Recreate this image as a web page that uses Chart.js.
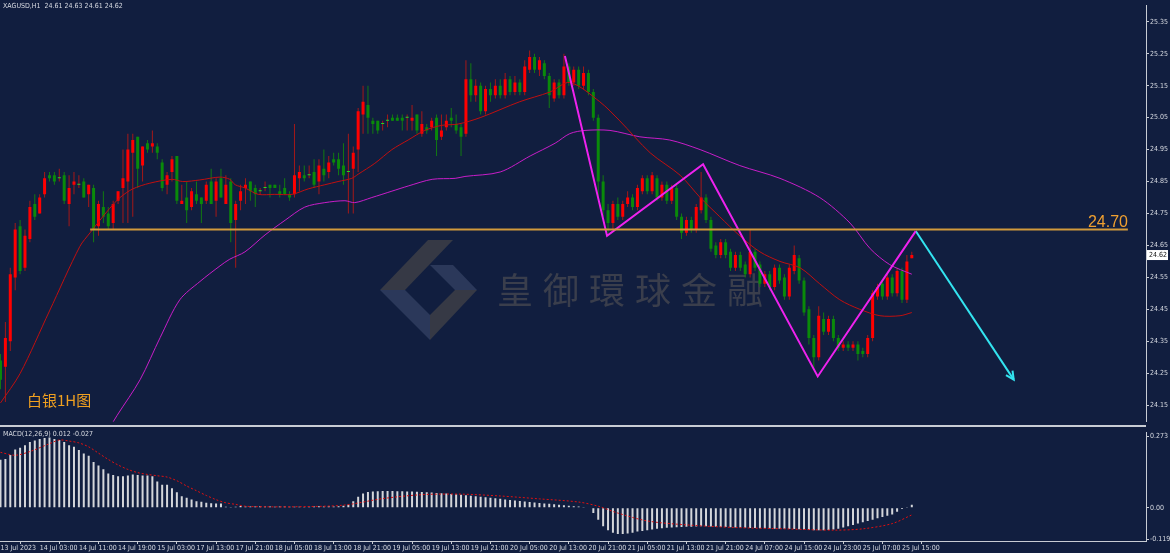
<!DOCTYPE html>
<html>
<head>
<meta charset="utf-8">
<script src="https://cdn.jsdelivr.net/npm/chart.js@4.4.0/dist/chart.umd.min.js"></script>
<style>
  body { margin: 0; background: #111e3f; }
  #wrap { position: relative; width: 1170px; height: 553px; background: #111e3f; overflow: hidden; }
  #main { position: absolute; left: 0; top: 0; }
  #macd { position: absolute; left: 0; top: 427px; }
</style>
</head>
<body>
<div id="wrap">
  <canvas id="main" width="1170" height="427"></canvas>
  <canvas id="macd" width="1170" height="126"></canvas>
</div>
<script>
// XAGUSD H1 candles, bar index 0 = left edge of the picture
const opens = [
  24.29,24.27,24.35,24.55,24.71,24.58,24.67,24.78,24.75,24.81,24.87,24.87,24.86,24.87,24.78,24.84,24.84,24.85,24.81,24.83,
  24.71,24.77,24.75,24.72,24.79,24.83,24.85,24.94,24.99,24.90,24.97,24.96,24.96,24.91,24.84,24.88,24.93,24.78,24.80,24.77,
  24.81,24.80,24.79,24.85,24.79,24.86,24.78,24.85,24.73,24.79,24.83,24.85,24.83,24.82,24.83,24.84,24.84,24.82,24.83,24.81,
  24.81,24.86,24.87,24.87,24.88,24.85,24.89,24.88,24.92,24.92,24.90,24.88,24.89,24.95,25.06,25.09,25.04,25.04,25.03,25.04,
  25.05,25.05,25.05,25.05,25.04,25.06,25.00,25.02,25.02,25.05,24.99,25.02,25.05,25.03,25.02,25.00,25.17,25.12,25.15,25.07,
  25.14,25.12,25.15,25.12,25.17,25.13,25.16,25.13,25.20,25.24,25.20,25.22,25.18,25.11,25.16,25.12,25.21,25.16,25.20,25.15,
  25.19,25.13,25.05,24.85,24.76,24.72,24.78,24.74,24.78,24.80,24.77,24.82,24.86,24.82,24.86,24.80,24.84,24.79,24.83,24.74,
  24.69,24.73,24.70,24.76,24.80,24.73,24.65,24.62,24.66,24.63,24.58,24.62,24.59,24.56,24.63,24.59,24.53,24.56,24.52,24.58,
  24.55,24.49,24.57,24.61,24.54,24.45,24.36,24.30,24.42,24.38,24.42,24.36,24.33,24.34,24.33,24.34,24.32,24.31,24.36,24.49,
  24.53,24.49,24.55,24.50,24.57,24.48,24.61
];
const highs = [
  24.31,24.41,24.58,24.72,24.73,24.70,24.79,24.81,24.81,24.88,24.88,24.88,24.89,24.88,24.87,24.88,24.87,24.86,24.84,24.84,
  24.79,24.82,24.77,24.79,24.82,24.95,25.00,25.00,24.99,24.96,24.98,25.01,24.97,24.92,24.88,24.93,24.93,24.84,24.85,24.83,
  24.85,24.80,24.85,24.89,24.86,24.89,24.87,24.86,24.79,24.84,24.86,24.85,24.84,24.83,24.85,24.84,24.84,24.84,24.86,24.82,
  25.03,24.90,24.90,24.90,24.92,24.92,24.95,24.93,24.94,24.94,24.97,25.00,24.96,25.08,25.15,25.15,25.05,25.04,25.04,25.06,
  25.06,25.06,25.06,25.06,25.09,25.06,25.07,25.03,25.05,25.06,25.06,25.06,25.08,25.06,25.03,25.23,25.22,25.17,25.16,25.15,
  25.16,25.17,25.17,25.19,25.18,25.18,25.17,25.23,25.26,25.25,25.24,25.23,25.19,25.17,25.17,25.25,25.22,25.21,25.21,25.21,
  25.20,25.14,25.06,24.87,24.78,24.79,24.80,24.79,24.82,24.81,24.84,24.87,24.87,24.88,24.87,24.85,24.85,24.84,24.84,24.75,
  24.74,24.74,24.78,24.88,24.81,24.74,24.66,24.67,24.67,24.64,24.63,24.63,24.60,24.70,24.64,24.60,24.57,24.57,24.59,24.59,
  24.56,24.59,24.65,24.62,24.55,24.46,24.37,24.46,24.44,24.43,24.43,24.37,24.35,24.35,24.35,24.35,24.33,24.37,24.51,24.53,
  24.54,24.56,24.56,24.58,24.58,24.62,24.63
];
const lows = [
  24.20,24.16,24.32,24.51,24.56,24.57,24.66,24.73,24.75,24.80,24.85,24.84,24.85,24.78,24.71,24.81,24.83,24.80,24.77,24.66,
  24.68,24.72,24.70,24.70,24.78,24.72,24.72,24.74,24.83,24.85,24.94,24.94,24.92,24.82,24.81,24.85,24.78,24.78,24.72,24.76,
  24.78,24.72,24.78,24.78,24.74,24.80,24.78,24.66,24.58,24.76,24.78,24.79,24.77,24.81,24.82,24.80,24.83,24.80,24.81,24.79,
  24.80,24.82,24.85,24.86,24.83,24.81,24.85,24.86,24.90,24.87,24.84,24.75,24.75,24.88,25.00,25.00,25.00,25.00,25.01,25.02,
  25.04,25.04,25.01,25.01,25.01,25.00,24.99,25.00,25.01,24.93,24.98,25.01,25.02,25.00,24.93,24.99,25.10,25.10,25.06,25.06,
  25.10,25.11,25.11,25.11,25.12,25.12,25.12,25.12,25.19,25.19,25.18,25.17,25.08,25.10,25.11,25.11,25.15,25.15,25.14,25.14,
  25.12,25.04,24.80,24.74,24.69,24.70,24.73,24.73,24.77,24.76,24.76,24.81,24.81,24.81,24.79,24.79,24.78,24.78,24.73,24.67,
  24.68,24.69,24.69,24.75,24.72,24.63,24.61,24.61,24.61,24.57,24.57,24.57,24.55,24.55,24.57,24.52,24.52,24.51,24.51,24.53,
  24.48,24.48,24.56,24.53,24.43,24.34,24.26,24.29,24.37,24.37,24.35,24.32,24.32,24.32,24.32,24.29,24.30,24.30,24.35,24.48,
  24.48,24.48,24.49,24.49,24.47,24.47,24.61
];
const closes = [
  24.23,24.36,24.56,24.70,24.57,24.68,24.77,24.74,24.80,24.86,24.86,24.85,24.86,24.79,24.83,24.85,24.84,24.80,24.84,24.70,
  24.78,24.74,24.71,24.78,24.82,24.86,24.95,24.98,24.89,24.96,24.95,24.97,24.94,24.83,24.87,24.92,24.79,24.79,24.76,24.82,
  24.79,24.78,24.84,24.78,24.85,24.80,24.84,24.72,24.78,24.82,24.84,24.82,24.81,24.82,24.83,24.83,24.83,24.81,24.81,24.80,
  24.87,24.88,24.86,24.87,24.84,24.90,24.87,24.91,24.91,24.89,24.87,24.88,24.94,25.07,25.10,25.05,25.03,25.01,25.03,25.04,
  25.04,25.04,25.04,25.05,25.05,25.01,25.03,25.01,25.04,24.98,25.01,25.04,25.04,25.01,24.99,25.17,25.12,25.15,25.07,25.14,
  25.12,25.15,25.12,25.17,25.13,25.16,25.13,25.21,25.24,25.20,25.23,25.18,25.12,25.16,25.12,25.21,25.16,25.20,25.15,25.19,
  25.13,25.05,24.85,24.76,24.72,24.78,24.74,24.78,24.80,24.77,24.83,24.86,24.82,24.87,24.80,24.84,24.79,24.83,24.74,24.69,
  24.73,24.70,24.77,24.80,24.73,24.64,24.62,24.66,24.62,24.58,24.62,24.58,24.56,24.63,24.58,24.53,24.56,24.52,24.58,24.54,
  24.49,24.58,24.62,24.54,24.44,24.36,24.30,24.43,24.38,24.42,24.36,24.33,24.34,24.33,24.34,24.31,24.31,24.36,24.50,24.52,
  24.49,24.55,24.50,24.57,24.48,24.60,24.62
];

// moving averages (bar index, price)
const maRedIdx = [0,4,10,16.2,18.3,20.3,22.3,24.4,27,30.5,35,37.2,40.7,44.8,46.8,47.9,49.9,52.6,56,59.5,62.8,66.2,68.9,71.7,73,76.4,79.9,83.2,86.6,90.1,93.4,97.9,106,112.1,116.2,122.3,126.4,132.6,138.7,142.8,146.8,150.9,155,159.1,163.2,167.2,171.3,175.4,179.5,183.6,186];
const maRedVal = [24.157,24.249,24.445,24.647,24.69,24.729,24.766,24.80,24.827,24.845,24.857,24.85,24.855,24.864,24.857,24.84,24.83,24.81,24.81,24.81,24.827,24.84,24.85,24.86,24.873,24.907,24.95,24.98,25.01,25.026,25.03,25.05,25.10,25.13,25.16,25.10,25.04,24.94,24.87,24.80,24.74,24.68,24.63,24.60,24.58,24.53,24.48,24.45,24.43,24.43,24.44];
const maPinkIdx = [22.3,23.8,28.5,32.6,36.6,40.7,44.8,46.8,49.9,54,58.1,62.1,66.2,70.3,72.3,75.8,79.9,83.2,88.1,92.8,94.8,102,108.1,113.2,116.2,119.3,124.4,130.5,136.6,142.8,150.9,159.1,167.2,173.4,177.5,181.5,186];
const maPinkVal = [24.08,24.118,24.23,24.362,24.48,24.537,24.586,24.607,24.63,24.683,24.729,24.77,24.784,24.79,24.784,24.80,24.82,24.836,24.857,24.86,24.866,24.88,24.93,24.97,25.00,25.01,25.01,24.99,24.98,24.95,24.90,24.86,24.80,24.72,24.64,24.59,24.56];

// hand drawn lines
const zigzagIdx = [115.2,123.8,143.4,166.8,186.8];
const zigzagVal = [25.243,24.68,24.904,24.24,24.695];
const arrowIdx = [186.8,206.8];
const arrowVal = [24.695,24.23];
const levelIdx = [18.3,230.1];
const levelPrice = 24.70;

// MACD(12,26,9)
const macdHist = [
  0.183,0.186,0.201,0.222,0.229,0.238,0.25,0.256,0.262,0.266,0.268,0.262,0.258,0.25,0.238,0.232,0.22,0.207,0.198,0.174,
  0.161,0.147,0.131,0.125,0.12,0.12,0.123,0.127,0.125,0.123,0.123,0.12,0.10,0.088,0.088,0.074,0.059,0.044,0.038,0.032,
  0.025,0.023,0.019,0.017,0.016,0.016,0.004,0.001,0.004,0.007,0.005,0.005,0.005,0.006,0.005,0.005,0.004,0.005,0.005,0.004,
  0.004,0.004,0.003,0.004,0.005,0.006,0.005,0.006,0.005,0.006,0.008,0.012,0.025,0.042,0.054,0.06,0.062,0.063,0.064,0.064,
  0.064,0.063,0.063,0.062,0.062,0.061,0.06,0.059,0.058,0.056,0.055,0.054,0.053,0.052,0.05,0.048,0.046,0.044,0.042,0.04,
  0.038,0.036,0.034,0.032,0.03,0.028,0.026,0.024,0.022,0.02,0.018,0.016,0.015,0.014,0.012,0.01,0.008,0.006,0.005,0.003,
  0.002,-0.02,-0.045,-0.07,-0.085,-0.095,-0.10,-0.10,-0.098,-0.095,-0.09,-0.088,-0.085,-0.083,-0.08,-0.078,-0.076,-0.075,-0.074,-0.073,
  -0.072,-0.072,-0.071,-0.07,-0.07,-0.071,-0.072,-0.073,-0.073,-0.074,-0.075,-0.075,-0.076,-0.077,-0.077,-0.078,-0.078,-0.079,-0.08,-0.08,
  -0.08,-0.081,-0.081,-0.082,-0.083,-0.084,-0.085,-0.085,-0.085,-0.084,-0.083,-0.08,-0.075,-0.07,-0.065,-0.06,-0.055,-0.05,-0.045,-0.04,
  -0.035,-0.03,-0.025,-0.015,-0.005,0.003,0.012
];
const signalIdx = [0,3,6,10,12,14,16,18,20,22,24,26,28,30,32,34,36,38,40,42,44,46,48,50,54,60,70,78,86,94,102,110,118,122,126,132,140,150,160,170,176,182,186];
const signalVal = [0.211,0.20,0.214,0.244,0.258,0.254,0.247,0.232,0.208,0.184,0.163,0.146,0.134,0.127,0.122,0.117,0.103,0.083,0.065,0.047,0.031,0.019,0.013,0.006,0.004,0.004,0.01,0.035,0.05,0.052,0.045,0.034,0.022,0.006,-0.02,-0.05,-0.065,-0.075,-0.08,-0.085,-0.08,-0.06,-0.027];

// axes
const priceTicks = [25.35,25.25,25.15,25.05,24.95,24.85,24.75,24.65,24.55,24.45,24.35,24.25,24.15];
const macdTicks = [0.273,0,-0.119];
const macdTickLabels = ['0.273','0.00','-0.119'];
const xTickIdx = [0,8,16,24,32,40,48,56,64,72,80,88,96,104,112,120,128,136,144,152,160,168,176,184];
const xTickLabels = ['13 Jul 2023','14 Jul 03:00','14 Jul 11:00','14 Jul 19:00','15 Jul 03:00','17 Jul 13:00','17 Jul 21:00','18 Jul 05:00','18 Jul 13:00','18 Jul 21:00','19 Jul 05:00','19 Jul 13:00','19 Jul 21:00','20 Jul 05:00','20 Jul 13:00','20 Jul 21:00','21 Jul 05:00','21 Jul 13:00','21 Jul 21:00','24 Jul 07:00','24 Jul 15:00','24 Jul 23:00','25 Jul 07:00','25 Jul 15:00'];

const BG = '#111e3f';
const AXIS = '#c8ccd4';
const TXT = '#d8dbe2';
const SMALL = '"Liberation Sans Narrow", "DejaVu Sans Condensed", sans-serif';
const X_MIN = -0.1, X_MAX = 233.8;

Chart.defaults.font.family = SMALL;
Chart.defaults.font.size = 7;
Chart.defaults.color = TXT;

const isUp = i => closes[i] >= opens[i];
const pts = (xs, ys) => xs.map((x, k) => ({ x: x, y: ys[k] }));

const mainPlugin = {
  id: 'mainDeco',
  beforeDatasetsDraw(chart) {
    // watermark
    const c = chart.ctx;
    c.save();
    c.fillStyle = '#363945';
    c.beginPath(); c.moveTo(380, 290); c.lineTo(428, 240); c.lineTo(453, 240); c.lineTo(405, 290); c.fill();
    c.beginPath(); c.moveTo(455, 290); c.lineTo(477, 290); c.lineTo(430, 340); c.lineTo(430, 315); c.fill();
    c.fillStyle = '#2b385a';
    c.beginPath(); c.moveTo(380, 290); c.lineTo(405, 290); c.lineTo(430, 315); c.lineTo(430, 340); c.fill();
    c.beginPath(); c.moveTo(430, 265); c.lineTo(453, 265); c.lineTo(477, 290); c.lineTo(455, 290); c.fill();
    c.fillStyle = '#3a3e4c';
    c.font = '36px "Noto Sans CJK TC"';
    c.textBaseline = 'middle';
    '皇御環球金融'.split('').forEach((ch, k) => c.fillText(ch, 497 + k * 46, 290));
    c.restore();
  },
  afterDraw(chart) {
    const c = chart.ctx;
    const xs = chart.scales.x, ys = chart.scales.y;
    c.save();
    // panel separator
    c.fillStyle = AXIS;
    c.fillRect(0, 425, 1146, 2);
    // title
    c.fillStyle = TXT;
    c.font = '7px ' + SMALL;
    c.textBaseline = 'middle';
    c.fillText('XAGUSD,H1  24.61 24.63 24.61 24.62', 3, 6);
    // level label
    c.fillStyle = '#f0a030';
    c.font = '16px "Liberation Sans"';
    c.textAlign = 'right';
    c.textBaseline = 'alphabetic';
    c.fillText('24.70', 1128, ys.getPixelForValue(levelPrice) - 2);
    // caption
    c.textAlign = 'left';
    c.font = '15px "Noto Sans CJK SC"';
    c.textBaseline = 'middle';
    c.fillStyle = '#f0a020';
    c.fillText('白银1H图', 27, 400);
    // arrow head
    const x1 = xs.getPixelForValue(arrowIdx[0]), y1 = ys.getPixelForValue(arrowVal[0]);
    const x2 = xs.getPixelForValue(arrowIdx[1]), y2 = ys.getPixelForValue(arrowVal[1]);
    const a = Math.atan2(y2 - y1, x2 - x1);
    c.strokeStyle = '#33e4f0';
    c.lineWidth = 2;
    c.beginPath();
    c.moveTo(x2 - 9 * Math.cos(a - 0.45), y2 - 9 * Math.sin(a - 0.45));
    c.lineTo(x2, y2);
    c.lineTo(x2 - 9 * Math.cos(a + 0.45), y2 - 9 * Math.sin(a + 0.45));
    c.stroke();
    // last price box
    const py = ys.getPixelForValue(closes[closes.length - 1]);
    c.fillStyle = '#ffffff';
    c.fillRect(1147, py - 5, 21, 10);
    c.fillStyle = '#111111';
    c.font = '7px ' + SMALL;
    c.fillText('24.62', 1149, py);
    c.restore();
  }
};

new Chart(document.getElementById('main'), {
  type: 'bar',
  data: {
    datasets: [
      {
        label: 'wick',
        data: opens.map((o, i) => ({ x: i, y: [lows[i], highs[i]] })),
        backgroundColor: opens.map((o, i) => isUp(i) ? '#a51818' : '#127a12'),
        barThickness: 1, grouped: false, inflateAmount: 0, order: 3
      },
      {
        label: 'body',
        data: opens.map((o, i) => ({ x: i, y: [o, closes[i]] })),
        backgroundColor: opens.map((o, i) => o === closes[i] ? '#22e022' : (isUp(i) ? '#ff0000' : '#0a8a0a')),
        barThickness: 3, minBarLength: 1, grouped: false, inflateAmount: 0, order: 2
      },
      { type: 'line', label: 'MA fast', data: pts(maRedIdx, maRedVal), borderColor: '#c01010', borderWidth: 1, pointRadius: 0, tension: 0.3, order: 1 },
      { type: 'line', label: 'MA slow', data: pts(maPinkIdx, maPinkVal), borderColor: '#c81ec8', borderWidth: 1, pointRadius: 0, tension: 0.3, order: 1 },
      { type: 'line', label: 'level', data: pts(levelIdx, [levelPrice, levelPrice]), borderColor: '#d29a3c', borderWidth: 2, pointRadius: 0, order: 0 },
      { type: 'line', label: 'zigzag', data: pts(zigzagIdx, zigzagVal), borderColor: '#ee22ee', borderWidth: 2, pointRadius: 0, order: 0 },
      { type: 'line', label: 'arrow', data: pts(arrowIdx, arrowVal), borderColor: '#33e4f0', borderWidth: 2, pointRadius: 0, order: 0 }
    ]
  },
  options: {
    responsive: false,
    animation: false,
    devicePixelRatio: 1,
    layout: { padding: { top: 0, bottom: 1, left: 0, right: 0 } },
    plugins: { legend: { display: false }, tooltip: { enabled: false } },
    scales: {
      x: { type: 'linear', min: X_MIN, max: X_MAX, offset: false, display: false },
      y: {
        type: 'linear', position: 'right', min: 24.098, max: 25.402,
        afterBuildTicks: s => { s.ticks = priceTicks.map(v => ({ value: v })); },
        afterFit: s => { s.width = 24; },
        ticks: { callback: v => v.toFixed(2), padding: 1, color: TXT, font: { size: 7 } },
        grid: { drawOnChartArea: false, tickLength: 3, color: AXIS },
        border: { color: AXIS }
      }
    }
  },
  plugins: [mainPlugin]
});

const macdPlugin = {
  id: 'macdDeco',
  afterDraw(chart) {
    const c = chart.ctx;
    c.save();
    c.fillStyle = TXT;
    c.font = '7px ' + SMALL;
    c.textBaseline = 'middle';
    c.fillText('MACD(12,26,9) 0.012 -0.027', 3, 7);
    c.restore();
  }
};

new Chart(document.getElementById('macd'), {
  type: 'bar',
  data: {
    datasets: [
      {
        label: 'signal', type: 'line', data: pts(signalIdx, signalVal),
        borderColor: '#e01010', borderWidth: 1, borderDash: [2, 2], pointRadius: 0, tension: 0.3, order: 0
      },
      {
        label: 'MACD', data: macdHist.map((v, i) => ({ x: i, y: v })),
        backgroundColor: '#d4d6da', barThickness: 2, grouped: false, inflateAmount: 0, order: 1
      }
    ]
  },
  options: {
    responsive: false,
    animation: false,
    devicePixelRatio: 1,
    layout: { padding: { top: 1, bottom: 0, left: 0, right: 0 } },
    plugins: { legend: { display: false }, tooltip: { enabled: false } },
    scales: {
      x: {
        type: 'linear', min: X_MIN, max: X_MAX, offset: false,
        afterBuildTicks: s => { s.ticks = xTickIdx.map(v => ({ value: v })); },
        afterFit: s => { s.height = 12; },
        ticks: { callback: (v, k) => xTickLabels[k], align: 'start', autoSkip: false, maxRotation: 0, padding: 0, color: TXT, font: { size: 7 } },
        grid: { drawOnChartArea: false, tickLength: 3, color: AXIS },
        border: { color: AXIS }
      },
      y: {
        type: 'linear', position: 'right', min: -0.1263, max: 0.2877,
        afterBuildTicks: s => { s.ticks = macdTicks.map(v => ({ value: v })); },
        afterFit: s => { s.width = 24; },
        ticks: { callback: (v, k) => macdTickLabels[k], padding: 1, color: TXT, font: { size: 7 } },
        grid: { drawOnChartArea: false, tickLength: 3, color: AXIS },
        border: { color: AXIS }
      }
    }
  },
  plugins: [macdPlugin]
});
</script>
</body>
</html>
